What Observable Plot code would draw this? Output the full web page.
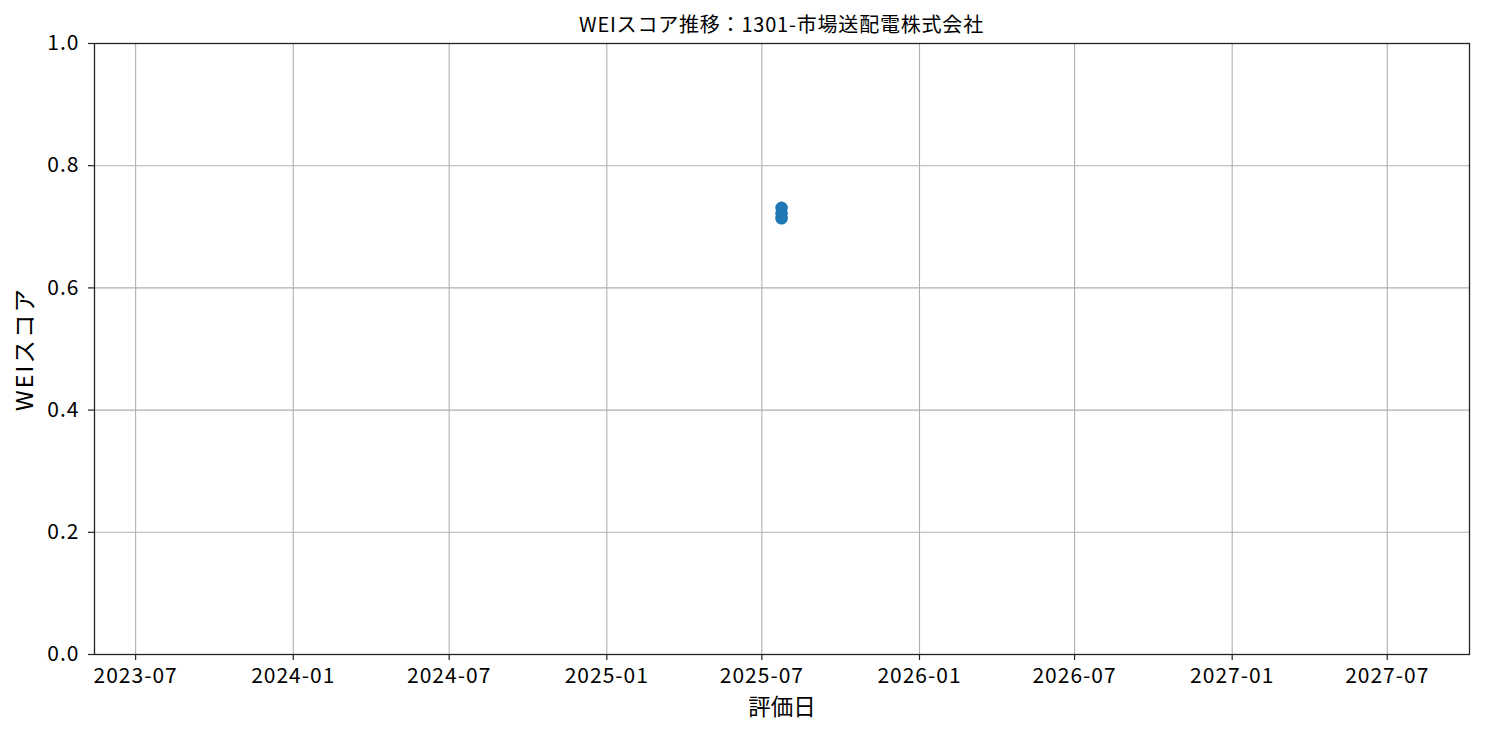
<!DOCTYPE html>
<html>
<head>
<meta charset="utf-8">
<script src="https://cdn.jsdelivr.net/npm/d3@7"></script>
<script src="https://cdn.jsdelivr.net/npm/@observablehq/plot@0.6"></script>
<style>
  html, body { margin: 0; padding: 0; background: #fff; }
  body { font-family: "Noto Sans CJK JP", "Noto Sans", sans-serif; width: 1485px; height: 736px; overflow: hidden; }
  #title { box-sizing: border-box; height: 22px; overflow: visible; padding: 14px 16px 0 94px; font-size: 20px; line-height: 20px; letter-spacing: 0.8px; text-align: center; color: #000; white-space: nowrap; position: relative; z-index: 1; }
  svg { display: block; }
  .ticks text { letter-spacing: 1px; }
  .ylab text { letter-spacing: 2px; }
</style>
</head>
<body>
<div id="title"></div>
<div id="chart"></div>
<script>
const titleText = "WEIスコア推移：1301-市場送配電株式会社";
const xLabel = "評価日";
const yLabel = "WEIスコア";
const dates = ["2025-07-24", "2025-07-24", "2025-07-24"];
const scores = [0.731, 0.722, 0.714];
const xDomain = ["2023-05-14", "2027-10-05"];
const xTicks = ["2023-07-01", "2024-01-01", "2024-07-01", "2025-01-01", "2025-07-01", "2026-01-01", "2026-07-01", "2027-01-01", "2027-07-01"];
const yTicks = [0, 0.2, 0.4, 0.6, 0.8, 1.0];

document.getElementById("title").textContent = titleText;
const data = dates.map((d, i) => ({date: new Date(d), score: scores[i]}));
const xt = xTicks.map(d => new Date(d));

const chart = Plot.plot({
  width: 1485,
  height: 714,
  marginTop: 21,
  marginLeft: 94,
  marginRight: 16,
  marginBottom: 82,
  style: {fontFamily: '"Noto Sans CJK JP", sans-serif', color: "#000", background: "#fff"},
  x: {type: "utc", domain: xDomain.map(d => new Date(d))},
  y: {domain: [0, 1]},
  marks: [
    Plot.gridX(xt, {stroke: "#b0b0b0", strokeOpacity: 1, strokeWidth: 1.1}),
    Plot.gridY(yTicks, {stroke: "#b0b0b0", strokeOpacity: 1, strokeWidth: 1.1}),
    Plot.axisX(xt, {tickFormat: d3.utcFormat("%Y-%m"), tickSize: 6, tickPadding: 8, fontSize: 21, label: null, stroke: "#222", strokeWidth: 1.2, className: "ticks"}),
    Plot.axisY(yTicks, {tickFormat: d3.format(".1f"), tickSize: 6, tickPadding: 9, fontSize: 21, label: null, stroke: "#222", strokeWidth: 1.2, className: "ticks"}),
    Plot.frame({stroke: "#222", strokeWidth: 1.3}),
    Plot.text([xLabel], {frameAnchor: "bottom", textAnchor: "middle", lineAnchor: "top", dy: 45, fontSize: 22.5, fill: "#000"}),
    Plot.text([yLabel], {frameAnchor: "left", textAnchor: "middle", lineAnchor: "middle", rotate: -90, dx: -69, fontSize: 23.5, fill: "#000", className: "ylab"}),
    Plot.line(data, {x: "date", y: "score", stroke: "#1f77b4", strokeWidth: 2.5}),
    Plot.dot(data, {x: "date", y: "score", r: 6.3, fill: "#1f77b4", stroke: "none"})
  ]
});
document.getElementById("chart").appendChild(chart);
</script>
</body>
</html>
